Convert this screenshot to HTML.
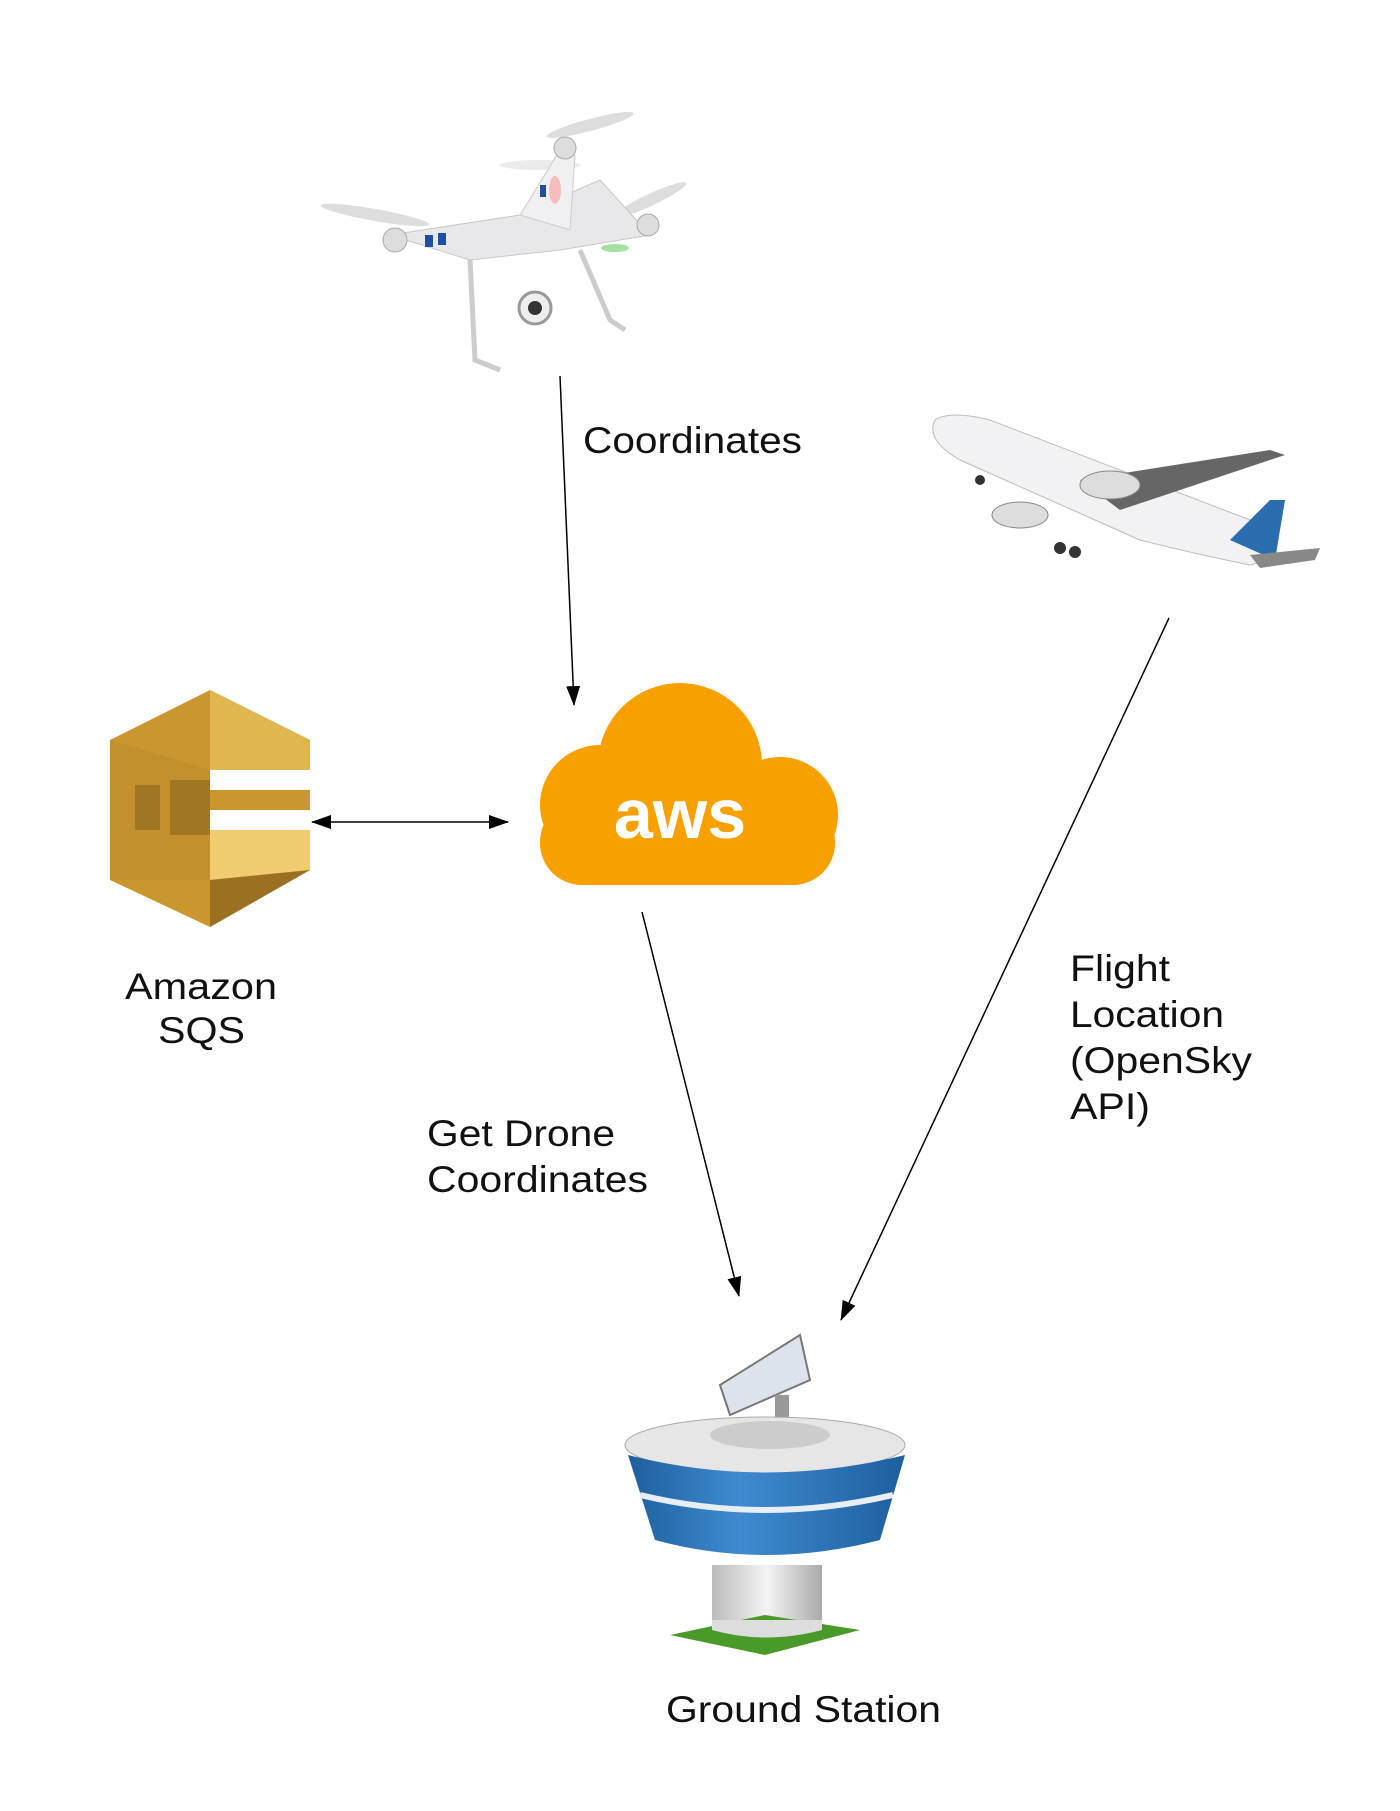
<!DOCTYPE html>
<html><head><meta charset="utf-8"><style>
html,body{margin:0;padding:0;background:#fff;width:1400px;height:1811px;overflow:hidden}
svg{display:block}
text{font-family:"Liberation Sans",sans-serif;fill:#111}
</style></head><body>
<svg width="1400" height="1811" viewBox="0 0 1400 1811" xmlns="http://www.w3.org/2000/svg">
<defs>
<marker id="ah2" markerWidth="20" markerHeight="14" refX="19" refY="7" orient="auto-start-reverse" markerUnits="userSpaceOnUse"><path d="M0,0 L20,7 L0,14 Z" fill="#000"/></marker>
<linearGradient id="blue" x1="0" x2="1"><stop offset="0" stop-color="#1d5f9e"/><stop offset=".4" stop-color="#3f8ad0"/><stop offset="1" stop-color="#1d5f9e"/></linearGradient>
<linearGradient id="grey" x1="0" x2="1"><stop offset="0" stop-color="#bbb"/><stop offset=".5" stop-color="#f4f4f4"/><stop offset="1" stop-color="#aaa"/></linearGradient>
</defs>

<!-- Drone -->
<g>
<ellipse cx="375" cy="215" rx="55" ry="6" fill="#bbb" opacity=".5" transform="rotate(10 375 215)"/>
<ellipse cx="590" cy="125" rx="45" ry="6" fill="#bbb" opacity=".5" transform="rotate(-15 590 125)"/>
<ellipse cx="650" cy="200" rx="40" ry="6" fill="#bbb" opacity=".5" transform="rotate(-25 650 200)"/>
<ellipse cx="540" cy="165" rx="40" ry="5" fill="#ccc" opacity=".4"/>
<path d="M390 235 L520 215 L600 180 L650 235 L560 250 L470 260 Z" fill="#e8e8ea" stroke="#c8c8cc"/>
<path d="M520 215 L560 150 L575 155 L570 230 Z" fill="#f0f0f2" stroke="#ccc"/>
<circle cx="395" cy="240" r="12" fill="#ddd" stroke="#aaa"/>
<circle cx="565" cy="148" r="11" fill="#ddd" stroke="#aaa"/>
<circle cx="648" cy="225" r="11" fill="#ddd" stroke="#aaa"/>
<rect x="425" y="235" width="8" height="12" fill="#1f4fa0"/><rect x="438" y="233" width="8" height="12" fill="#1f4fa0"/>
<rect x="540" y="185" width="6" height="12" fill="#1f4fa0"/>
<path d="M470 260 L475 360 L500 370" stroke="#ccc" stroke-width="5" fill="none"/>
<path d="M580 250 L610 320 L625 330" stroke="#ccc" stroke-width="5" fill="none"/>
<circle cx="535" cy="308" r="16" fill="#eee" stroke="#999" stroke-width="3"/>
<circle cx="535" cy="308" r="7" fill="#333"/>
<ellipse cx="615" cy="248" rx="14" ry="4" fill="#6c6" opacity=".6"/>
<ellipse cx="555" cy="190" rx="6" ry="14" fill="#f99" opacity=".6"/>
</g>

<!-- Airplane -->
<g>
<path d="M935 420 Q950 410 990 420 L1250 520 Q1290 540 1270 560 L1250 565 Q1200 555 1140 540 L960 460 Q925 440 935 420 Z" fill="#f2f2f4" stroke="#bbb"/>
<path d="M1080 480 L1270 450 L1285 455 L1120 510 Z" fill="#666"/>
<path d="M1230 540 L1270 500 L1285 500 L1275 560 Z" fill="#2a6eb0"/>
<path d="M1250 555 L1320 548 L1315 560 L1260 568 Z" fill="#888"/>
<ellipse cx="1110" cy="485" rx="30" ry="14" fill="#ddd" stroke="#888"/>
<ellipse cx="1020" cy="515" rx="28" ry="13" fill="#ddd" stroke="#888"/>
<circle cx="1060" cy="548" r="6" fill="#333"/><circle cx="1075" cy="552" r="6" fill="#333"/><circle cx="980" cy="480" r="5" fill="#333"/>
</g>

<!-- SQS -->
<g>
<path d="M110 740 L210 690 L310 740 L310 770 L210 770 L210 790 L310 790 L310 810 L210 810 L210 830 L310 830 L310 870 L210 927 L110 880 Z" fill="#c9972e"/>
<path d="M210 690 L310 740 L310 770 L210 770 Z" fill="#e0b64f"/>
<path d="M210 830 L310 830 L310 870 L210 880 Z" fill="#f0cc70"/>
<path d="M210 880 L310 870 L210 927 Z" fill="#9b7020"/>
<rect x="135" y="785" width="25" height="45" fill="#8f6a1f"/>
<rect x="170" y="780" width="40" height="55" fill="#8f6a1f"/>
<path d="M110 740 L210 770 L210 880 L110 880 Z" fill="#b8862a" opacity=".4"/>
</g>

<!-- AWS cloud -->
<g fill="#f7a000">
<circle cx="680" cy="765" r="82"/>
<circle cx="600" cy="805" r="60"/>
<circle cx="780" cy="815" r="58"/>
<rect x="540" y="800" width="295" height="85" rx="42"/>
</g>
<text x="680" y="838" font-size="70" font-weight="bold" text-anchor="middle" style="fill:#fff">aws</text>

<!-- Tower -->
<g>
<path d="M720 1385 L800 1335 L810 1380 L730 1415 Z" fill="#dde3ec" stroke="#777" stroke-width="2"/>
<rect x="775" y="1395" width="14" height="30" fill="#999"/>
<ellipse cx="765" cy="1445" rx="140" ry="28" fill="#e6e6e6" stroke="#aaa"/>
<ellipse cx="770" cy="1435" rx="60" ry="14" fill="#ccc"/>
<path d="M628 1455 Q765 1490 905 1455 L880 1540 Q765 1570 655 1540 Z" fill="url(#blue)"/>
<path d="M640 1495 Q765 1525 893 1495" stroke="#e8eef5" stroke-width="6" fill="none"/>
<path d="M712 1565 L822 1565 L822 1630 L712 1630 Z" fill="url(#grey)"/>
<path d="M670 1635 L765 1615 L860 1630 L765 1655 Z" fill="#4a9a2a"/>
<path d="M712 1630 Q765 1645 822 1630 L822 1620 L712 1620 Z" fill="#ddd"/>
</g>

<!-- Connectors -->
<line x1="560" y1="376" x2="574" y2="705" stroke="#000" stroke-width="1.5" marker-end="url(#ah2)"/>
<line x1="312" y1="822" x2="508" y2="822" stroke="#000" stroke-width="1.5" marker-start="url(#ah2)" marker-end="url(#ah2)"/>
<line x1="642" y1="912" x2="739" y2="1296" stroke="#000" stroke-width="1.5" marker-end="url(#ah2)"/>
<line x1="1169" y1="618" x2="841" y2="1320" stroke="#000" stroke-width="1.5" marker-end="url(#ah2)"/>

<!-- Labels -->
<g font-size="37">
<text x="583" y="453" textLength="219" lengthAdjust="spacingAndGlyphs">Coordinates</text>
<text x="125" y="999" textLength="152" lengthAdjust="spacingAndGlyphs">Amazon</text>
<text x="158" y="1043" textLength="87" lengthAdjust="spacingAndGlyphs">SQS</text>
<text x="427" y="1146" textLength="188" lengthAdjust="spacingAndGlyphs">Get Drone</text>
<text x="427" y="1192" textLength="221" lengthAdjust="spacingAndGlyphs">Coordinates</text>
<text x="1070" y="981" textLength="100" lengthAdjust="spacingAndGlyphs">Flight</text>
<text x="1070" y="1027" textLength="154" lengthAdjust="spacingAndGlyphs">Location</text>
<text x="1070" y="1073" textLength="182" lengthAdjust="spacingAndGlyphs">(OpenSky</text>
<text x="1070" y="1119" textLength="80" lengthAdjust="spacingAndGlyphs">API)</text>
<text x="666" y="1722" textLength="275" lengthAdjust="spacingAndGlyphs">Ground Station</text>
</g>
</svg>
</body></html>
